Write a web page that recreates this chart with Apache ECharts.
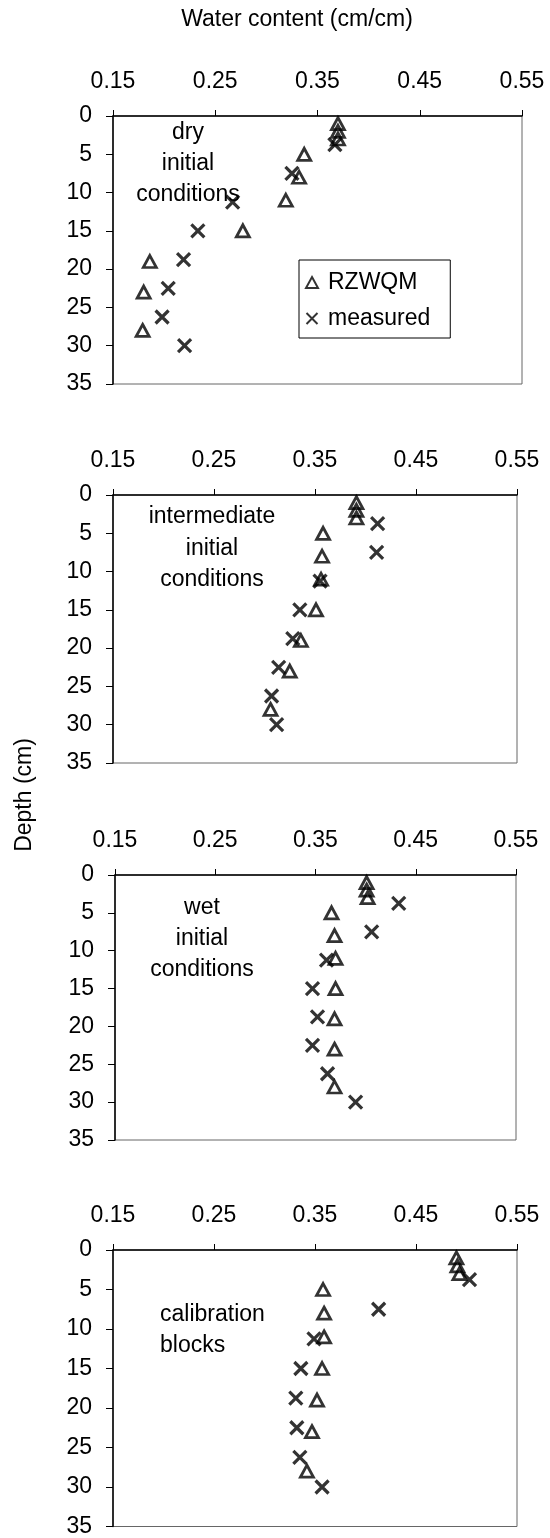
<!DOCTYPE html>
<html>
<head>
<meta charset="utf-8">
<script src="https://cdn.jsdelivr.net/npm/echarts@6/dist/echarts.min.js"></script>
<style>
html,body{margin:0;padding:0;background:#fff;}
#c{width:550px;height:1538px;}
</style>
</head>
<body>
<div id="c"></div>
<script>
// ---- data ----
const xTicks = [0.15, 0.25, 0.35, 0.45, 0.55];
const yTicks = [0, 5, 10, 15, 20, 25, 30, 35];
const depthModel = [1, 2, 3, 5, 8, 11, 15, 19, 23, 28];
const depthMeasured = [3.75, 7.5, 11.25, 15, 18.75, 22.5, 26.25, 30];

const dryModel = [0.370, 0.370, 0.370, 0.337, 0.332, 0.319, 0.277, 0.186, 0.180, 0.179];
const dryMeasured = [0.367, 0.325, 0.267, 0.233, 0.219, 0.204, 0.198, 0.220];
const intModel = [0.391, 0.391, 0.391, 0.358, 0.357, 0.356, 0.351, 0.336, 0.325, 0.306];
const intMeasured = [0.412, 0.411, 0.355, 0.335, 0.328, 0.314, 0.307, 0.312];
const wetModel = [0.401, 0.401, 0.402, 0.366, 0.369, 0.370, 0.370, 0.369, 0.369, 0.369];
const wetMeasured = [0.433, 0.406, 0.361, 0.347, 0.352, 0.347, 0.362, 0.390];
const calModel = [0.490, 0.491, 0.493, 0.358, 0.359, 0.359, 0.357, 0.352, 0.347, 0.342];
const calMeasured = [0.503, 0.413, 0.349, 0.336, 0.331, 0.332, 0.335, 0.357];

const panelLabels = [
  ['dry', 'initial', 'conditions'],
  ['intermediate', 'initial', 'conditions'],
  ['wet', 'initial', 'conditions'],
  ['calibration', 'blocks']
];
const seriesNames = ['RZWQM', 'measured'];
const xTitle = 'Water content (cm/cm)';
const yTitle = 'Depth (cm)';

// ---- layout ----
const FONT = '"Liberation Sans", Arial, sans-serif';
const FS = 23;
const grids = [
  {left: 113, top: 116, width: 409, height: 268},
  {left: 113, top: 495, width: 404, height: 268},
  {left: 115, top: 875, width: 401, height: 265},
  {left: 113, top: 1250, width: 404, height: 278}
];
const panelData = [
  [dryModel, dryMeasured],
  [intModel, intMeasured],
  [wetModel, wetMeasured],
  [calModel, calMeasured]
];
const labelPos = [
  {x: 188, ys: [133, 164, 195], align: 'center'},
  {x: 212, ys: [517, 549, 580], align: 'center'},
  {x: 202, ys: [908, 939, 970], align: 'center'},
  {x: 160, ys: [1315, 1346], align: 'left'}
];

const CROSS = 'path://M0,0L10,10M0,10L10,0';
const xAxes = [], yAxes = [], series = [], graphics = [];
grids.forEach((g, i) => {
  g.show = true; g.borderColor = '#666'; g.borderWidth = 1; g.backgroundColor = 'transparent';
  xAxes.push({
    gridIndex: i, type: 'value', position: 'top',
    min: xTicks[0], max: xTicks[xTicks.length - 1],
    axisLine: {show: true, onZero: false, lineStyle: {color: '#000', width: 1.5}},
    axisTick: {show: true, inside: false, length: 6, customValues: xTicks, lineStyle: {color: '#000'}},
    axisLabel: {show: true, customValues: xTicks, margin: 23, color: '#000', fontFamily: FONT, fontSize: FS,
      formatter: v => v.toFixed(2)},
    splitLine: {show: false}
  });
  yAxes.push({
    gridIndex: i, type: 'value', inverse: true,
    min: yTicks[0], max: yTicks[yTicks.length - 1], interval: yTicks[1] - yTicks[0],
    axisLine: {show: true, onZero: false, lineStyle: {color: '#000', width: 1.5}},
    axisTick: {show: true, inside: false, length: 7, lineStyle: {color: '#000'}},
    axisLabel: {show: true, margin: 21, color: '#000', fontFamily: FONT, fontSize: FS},
    splitLine: {show: false}
  });
  const [m, meas] = panelData[i];
  series.push({
    name: seriesNames[0], type: 'scatter', xAxisIndex: i, yAxisIndex: i,
    symbol: 'triangle', symbolSize: [13, 12],
    itemStyle: {color: 'rgba(255,255,255,0)', borderColor: '#000', borderWidth: 2.8},
    data: m.map((v, k) => [v, depthModel[k]]), z: 3
  });
  series.push({
    name: seriesNames[1], type: 'scatter', xAxisIndex: i, yAxisIndex: i,
    symbol: CROSS, symbolSize: 13,
    itemStyle: {color: 'rgba(255,255,255,0)', borderColor: '#000', borderWidth: 3.2},
    data: meas.map((v, k) => [v, depthMeasured[k]]), z: 4
  });
  const lp = labelPos[i];
  panelLabels[i].forEach((t, k) => {
    graphics.push({type: 'text', x: lp.x, y: lp.ys[k], z: 10,
      style: {text: t, font: FS + 'px ' + FONT, fill: '#000', textAlign: lp.align, textVerticalAlign: 'middle'}});
  });
});

graphics.push({type: 'text', x: 297, y: 20,
  style: {text: xTitle, font: FS + 'px ' + FONT, fill: '#000', textAlign: 'center', textVerticalAlign: 'middle'}});
graphics.push({type: 'text', x: 25, y: 795, rotation: Math.PI / 2,
  style: {text: yTitle, font: FS + 'px ' + FONT, fill: '#000', textAlign: 'center', textVerticalAlign: 'middle'}});

const chart = echarts.init(document.getElementById('c'), null, {renderer: 'canvas'});
chart.setOption({
  backgroundColor: '#fff',
  animation: false,
  grid: grids,
  xAxis: xAxes,
  yAxis: yAxes,
  legend: {
    data: seriesNames, left: 299, top: 260, orient: 'vertical',
    borderColor: '#000', borderWidth: 1, padding: [11, 20, 8, 6],
    itemWidth: 12, itemHeight: 11, itemGap: 13,
    textStyle: {color: '#000', fontFamily: FONT, fontSize: FS, lineHeight: 22, padding: [0, 0, 0, 5]},
    selectedMode: false, backgroundColor: '#fff'
  },
  series: series,
  graphic: graphics
});
</script>
</body>
</html>
